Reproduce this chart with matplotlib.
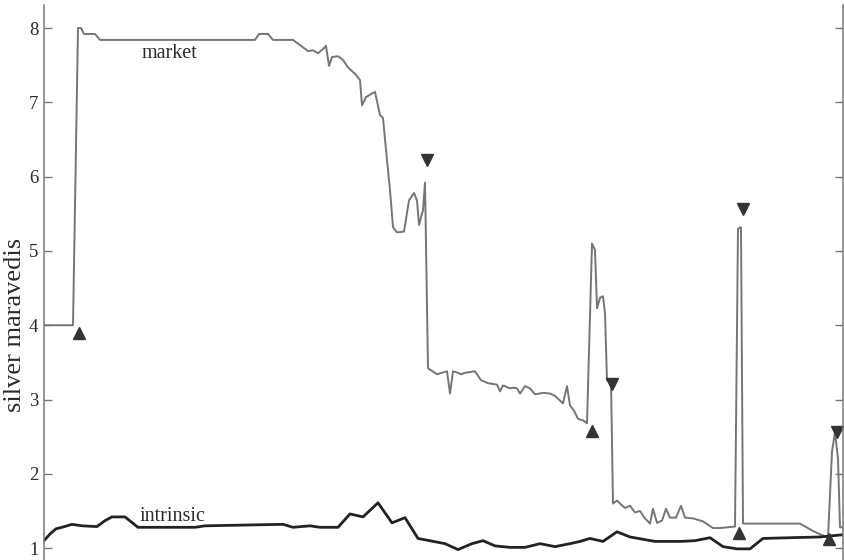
import matplotlib
matplotlib.use("Agg")
import matplotlib.pyplot as plt

# time index along the horizontal axis (no tick labels drawn)
market_t = [0, 29, 34, 37, 40, 51, 56, 211, 215, 224, 229, 249, 256, 264, 269, 274,
            280, 282, 285, 288, 294, 299, 304, 312, 316, 318, 322, 328, 331, 336,
            339, 343, 346, 349, 353, 360, 365, 370, 373, 375, 379, 381, 384, 393,
            403, 406, 409, 414, 417, 421, 431, 437, 444, 453, 456, 459, 466, 469,
            473, 476, 481, 486, 491, 499, 506, 511, 514, 519, 523, 526, 530, 534,
            539, 543, 548, 551, 553, 556, 559, 561, 563, 567, 569, 573, 576, 581,
            586, 591, 596, 601, 606, 609, 613, 618, 622, 626, 632, 637, 641, 649,
            659, 669, 676, 691, 694, 697, 699, 756, 769, 782, 784, 788, 791, 794,
            796, 799]
market_v = [4.0, 4.0, 8.0, 8.0, 7.92, 7.92, 7.84, 7.84, 7.92, 7.92, 7.84, 7.84, 7.77,
            7.69, 7.70, 7.66, 7.73, 7.76, 7.49, 7.61, 7.62, 7.57, 7.47, 7.37, 7.30,
            6.96, 7.07, 7.12, 7.14, 6.83, 6.79, 6.22, 5.82, 5.32, 5.25, 5.26, 5.68,
            5.78, 5.68, 5.35, 5.55, 5.92, 3.42, 3.34, 3.38, 3.08, 3.38, 3.36, 3.34,
            3.36, 3.38, 3.26, 3.22, 3.20, 3.11, 3.19, 3.15, 3.16, 3.15, 3.08, 3.18,
            3.15, 3.07, 3.09, 3.08, 3.05, 3.01, 2.95, 3.18, 2.92, 2.85, 2.74, 2.72,
            2.68, 5.10, 5.01, 4.23, 4.37, 4.39, 4.16, 3.26, 3.24, 1.60, 1.64, 1.60,
            1.54, 1.57, 1.48, 1.50, 1.40, 1.33, 1.53, 1.34, 1.37, 1.53, 1.41, 1.41,
            1.57, 1.41, 1.40, 1.36, 1.27, 1.27, 1.29, 5.30, 5.32, 1.33, 1.33, 1.23,
            1.15, 1.14, 2.30, 2.56, 2.20, 1.28, 1.28]

intrinsic_t = [0, 6, 12, 18, 28, 38, 53, 61, 68, 81, 94, 151, 161, 239, 249, 266, 276,
               294, 306, 319, 334, 348, 361, 374, 401, 414, 428, 439, 451, 466, 481,
               496, 511, 526, 536, 546, 559, 573, 586, 611, 636, 651, 666, 679, 693,
               706, 719, 746, 776, 799]
intrinsic_v = [1.10, 1.19, 1.26, 1.28, 1.32, 1.30, 1.29, 1.37, 1.42, 1.42, 1.28, 1.28,
               1.30, 1.32, 1.28, 1.30, 1.28, 1.28, 1.46, 1.42, 1.61, 1.34, 1.41, 1.13,
               1.06, 0.98, 1.06, 1.10, 1.03, 1.01, 1.01, 1.06, 1.02, 1.06, 1.09, 1.13,
               1.09, 1.22, 1.15, 1.09, 1.09, 1.10, 1.14, 1.02, 0.99, 0.99, 1.13, 1.14,
               1.15, 1.18]

# debasement (up) and restoration (down) events
up_t = [35, 548, 695, 785]
up_v = [3.90, 2.58, 1.21, 1.12]
down_t = [383, 568, 699, 793]
down_v = [6.22, 3.21, 5.57, 2.56]

yticks = [1, 2, 3, 4, 5, 6, 7, 8]

plt.rcParams["font.family"] = ["Liberation Serif", "DejaVu Serif"]

fig = plt.figure(figsize=(8.45, 5.6), dpi=100)
ax = fig.add_axes([44 / 845, 0, 799 / 845, 555 / 560])

ax.plot(market_t, market_v, color="#757575", lw=1.4)
ax.plot(intrinsic_t, intrinsic_v, color="#222222", lw=2.0)
ax.plot(up_t, up_v, "^", color="#333333", ms=8.5, ls="none")
ax.plot(down_t, down_v, "v", color="#333333", ms=8.5, ls="none")

ax.text(125, 7.60, "market", fontsize=14.5, color="#2a2a2a", ha="center", va="baseline")
ax.text(128.5, 1.37, "intrinsic", fontsize=14.5, color="#2a2a2a", ha="center", va="baseline")

ax.set_xlim(0, 799)
ax.set_ylim(0.84, 8.31)
ax.set_yticks(yticks)
ax.set_xticks([])
ax.tick_params(axis="y", direction="in", length=6, width=1, color="#777777",
               labelsize=13.5, labelcolor="#2a2a2a", pad=4, right=True)
for side in ["top", "bottom"]:
    ax.spines[side].set_visible(False)
for side in ["left", "right"]:
    ax.spines[side].set_color("#777777")
    ax.spines[side].set_linewidth(1.1)

fig.text(15 / 845, 1 - 325 / 560, "silver maravedis", rotation=90, fontsize=19,
         color="#2a2a2a", ha="center", va="center")

fig.savefig("out.png", dpi=100)
